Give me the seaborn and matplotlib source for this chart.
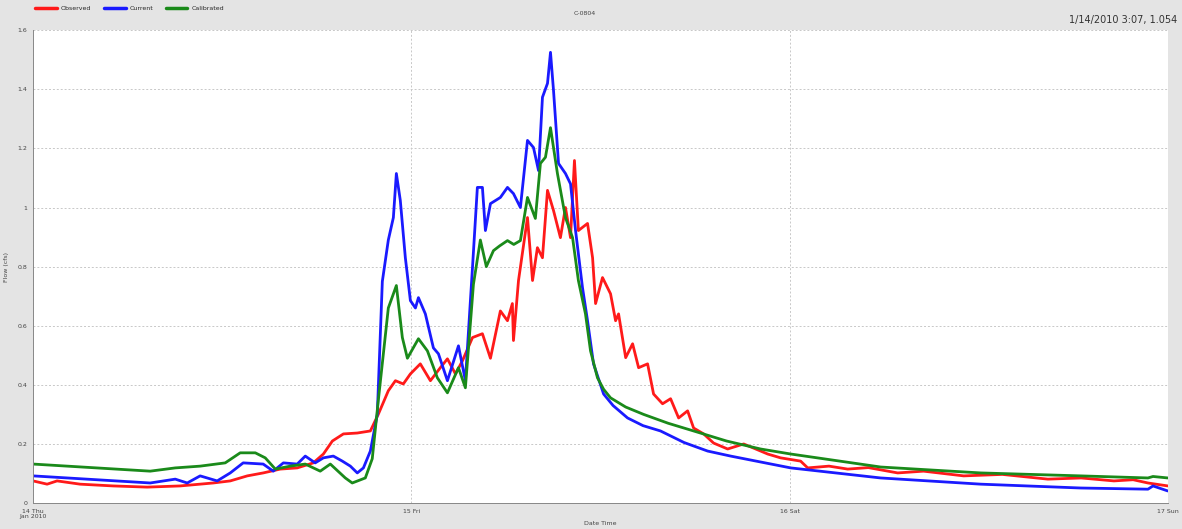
import matplotlib
matplotlib.use("Agg")
import matplotlib.pyplot as plt
from matplotlib.ticker import MultipleLocator, FuncFormatter
import pandas as pd
import seaborn as sns

# hours since 14 Jan 2010 00:00 and flow values
obs_hours = [0.0, 0.89, 1.52, 2.98, 5.08, 7.24, 9.33, 11.43, 12.51, 13.59, 14.6, 15.68,
             16.76, 17.78, 18.42, 18.99, 19.69, 20.57, 21.4, 21.9, 22.54, 22.99, 23.49,
             23.94, 24.57, 25.21, 25.84, 26.29, 26.8, 27.24, 27.88, 28.51, 29.02, 29.65,
             30.1, 30.41, 30.48, 30.8, 31.37, 31.69, 32.0, 32.32, 32.64, 33.02, 33.46,
             33.78, 34.1, 34.35, 34.6, 35.18, 35.5, 35.69, 36.13, 36.64, 36.96, 37.15,
             37.6, 38.04, 38.42, 38.99, 39.37, 39.94, 40.45, 40.96, 41.53, 41.91, 42.55,
             43.18, 44.07, 45.09, 46.61, 47.43, 48.7, 49.15, 50.5, 51.69, 53.0, 54.86,
             56.5, 59.05, 61.5, 64.39, 66.5, 68.58, 69.8, 70.74, 72.0]
obs_flow = [0.075, 0.064, 0.075, 0.064, 0.058, 0.054, 0.058, 0.068, 0.075, 0.092, 0.102, 0.115,
            0.119, 0.136, 0.166, 0.21, 0.234, 0.237, 0.244, 0.30, 0.38, 0.414, 0.403,
            0.437, 0.471, 0.414, 0.458, 0.488, 0.437, 0.481, 0.56, 0.573, 0.49, 0.65,
            0.617, 0.675, 0.55, 0.753, 0.966, 0.753, 0.864, 0.83, 1.058, 0.99, 0.898,
            1.0, 0.898, 1.159, 0.922, 0.946, 0.83, 0.675, 0.763, 0.708, 0.617, 0.64,
            0.492, 0.539, 0.458, 0.471, 0.369, 0.336, 0.353, 0.288, 0.312, 0.254, 0.234,
            0.203, 0.183, 0.2, 0.166, 0.153, 0.142, 0.119, 0.125, 0.115, 0.12, 0.102,
            0.108, 0.092, 0.097, 0.081, 0.085, 0.075, 0.079, 0.068, 0.058]

cur_hours = [0.0, 7.43, 9.02, 9.78, 10.6, 11.68, 12.51, 13.33, 14.6, 15.24, 15.88, 16.76,
             17.27, 17.9, 18.42, 19.05, 19.62, 20.13, 20.57, 20.96, 21.4, 21.84, 22.16,
             22.54, 22.86, 23.05, 23.3, 23.62, 23.94, 24.26, 24.45, 24.89, 25.4, 25.72,
             26.29, 26.99, 27.43, 27.88, 28.19, 28.51, 28.7, 29.02, 29.65, 30.1, 30.48,
             30.92, 31.37, 31.75, 32.07, 32.32, 32.64, 32.83, 33.02, 33.34, 33.78, 34.1,
             34.42, 34.86, 35.18, 35.56, 36.2, 36.8, 37.72, 38.7, 39.81, 41.3, 42.8,
             44.26, 48.07, 53.78, 60.13, 66.48, 70.74, 71.06, 72.0]
cur_flow = [0.092, 0.068, 0.081, 0.068, 0.092, 0.075, 0.102, 0.136, 0.132, 0.108, 0.136, 0.132,
            0.159, 0.136, 0.153, 0.159, 0.142, 0.125, 0.102, 0.119, 0.176, 0.30, 0.75,
            0.89, 0.966, 1.115, 1.024, 0.83, 0.685, 0.66, 0.695, 0.64, 0.525, 0.505,
            0.414, 0.532, 0.414, 0.797, 1.068, 1.068, 0.922, 1.013, 1.034, 1.068, 1.047,
            1.0, 1.227, 1.203, 1.125, 1.373, 1.42, 1.525, 1.397, 1.149, 1.115, 1.08,
            0.922, 0.729, 0.617, 0.471, 0.369, 0.33, 0.288, 0.262, 0.244, 0.205, 0.176,
            0.159, 0.119, 0.085, 0.064, 0.051, 0.047, 0.058, 0.041]

cal_hours = [0.0, 7.43, 9.02, 10.6, 12.19, 13.14, 14.1, 14.73, 15.37, 16.32, 17.27, 18.22,
             18.86, 19.81, 20.25, 21.08, 21.52, 21.9, 22.54, 23.05, 23.43, 23.75, 24.45,
             25.02, 25.65, 26.29, 26.99, 27.43, 27.94, 28.38, 28.76, 29.21, 29.6, 30.1,
             30.5, 30.92, 31.37, 31.87, 32.19, 32.51, 32.83, 33.27, 33.78, 34.23, 34.6,
             35.05, 35.37, 35.81, 36.2, 36.64, 37.6, 38.74, 40.3, 41.91, 44.0, 46.16,
             48.07, 53.78, 60.13, 66.48, 70.74, 71.06, 72.0]
cal_flow = [0.132, 0.108, 0.119, 0.125, 0.136, 0.17, 0.17, 0.153, 0.115, 0.125, 0.132, 0.108,
            0.132, 0.085, 0.068, 0.085, 0.15, 0.345, 0.66, 0.736, 0.56, 0.49, 0.556,
            0.515, 0.424, 0.373, 0.458, 0.39, 0.74, 0.89, 0.80, 0.854, 0.87, 0.888,
            0.875, 0.888, 1.034, 0.963, 1.149, 1.17, 1.27, 1.115, 0.966, 0.898, 0.753,
            0.64, 0.515, 0.424, 0.385, 0.356, 0.325, 0.30, 0.27, 0.244, 0.21, 0.183,
            0.166, 0.122, 0.102, 0.092, 0.085, 0.09, 0.085]

series_names = ["Observed", "Current", "Calibrated"]
series_colors = ["#ff1a1a", "#1a1aff", "#1a8a1a"]
day_labels = ["14 Thu\nJan 2010", "15 Fri", "16 Sat", "17 Sun"]

start = pd.Timestamp("2010-01-14")
frames = []
for name, hrs, vals in zip(series_names,
                           [obs_hours, cur_hours, cal_hours],
                           [obs_flow, cur_flow, cal_flow]):
    frames.append(pd.DataFrame({
        "Date Time": start + pd.to_timedelta(hrs, unit="h"),
        "Flow": vals,
        "Series": name,
    }))
df = pd.concat(frames, ignore_index=True)

sns.set_style("white")
fig = plt.figure(figsize=(11.82, 5.29), dpi=100, facecolor="#e4e4e4")
ax = fig.add_axes([0.028, 0.049, 0.960, 0.894])
ax.set_facecolor("white")

sns.lineplot(data=df, x="Date Time", y="Flow", hue="Series",
             palette=dict(zip(series_names, series_colors)),
             linewidth=2.0, ax=ax, legend=False, estimator=None, sort=False)

ax.set_ylim(0, 1.6)
ax.set_xlim(start, start + pd.Timedelta(hours=72))
ax.yaxis.set_major_locator(MultipleLocator(0.2))
ax.yaxis.set_minor_locator(MultipleLocator(0.02))
ax.yaxis.set_major_formatter(FuncFormatter(lambda v, p: f"{round(v, 2):g}"))
ticks = [start + pd.Timedelta(days=i) for i in range(4)]
ax.set_xticks(ticks)
ax.set_xticklabels(day_labels)
ax.tick_params(axis="both", labelsize=4.5, length=3, width=0.6, colors="#444444", pad=1)
ax.tick_params(axis="y", which="minor", length=1.5, width=0.5, colors="#777777")

ax.grid(True, axis="y", linestyle=(0, (2, 2)), color="#c8c8c8", linewidth=0.7)
ax.grid(True, axis="x", linestyle=(0, (2, 2)), color="#c8c8c8", linewidth=0.7)
for s in ["top", "right"]:
    ax.spines[s].set_visible(False)
for s in ["left", "bottom"]:
    ax.spines[s].set_color("#888888")
    ax.spines[s].set_linewidth(0.7)

ax.set_xlabel("Date Time", fontsize=4.5, color="#444444", labelpad=1)
ax.set_ylabel("Flow (cfs)", fontsize=4.5, color="#444444", labelpad=6)

# legend along the top band
handles = [plt.Line2D([], [], color=c, lw=2.5) for c in series_colors]
fig.legend(handles, series_names, loc="upper left", bbox_to_anchor=(0.025, 1.0),
           ncol=3, frameon=False, fontsize=4.5, handlelength=3.5,
           columnspacing=2.0, handletextpad=0.6)

fig.text(0.495, 0.975, "C-0804", fontsize=4.5, color="#444444", ha="center", va="center")
fig.text(0.996, 0.962, "1/14/2010 3:07, 1.054", fontsize=7, color="#333333",
         ha="right", va="center")

fig.savefig("out.png", dpi=100, facecolor=fig.get_facecolor())
